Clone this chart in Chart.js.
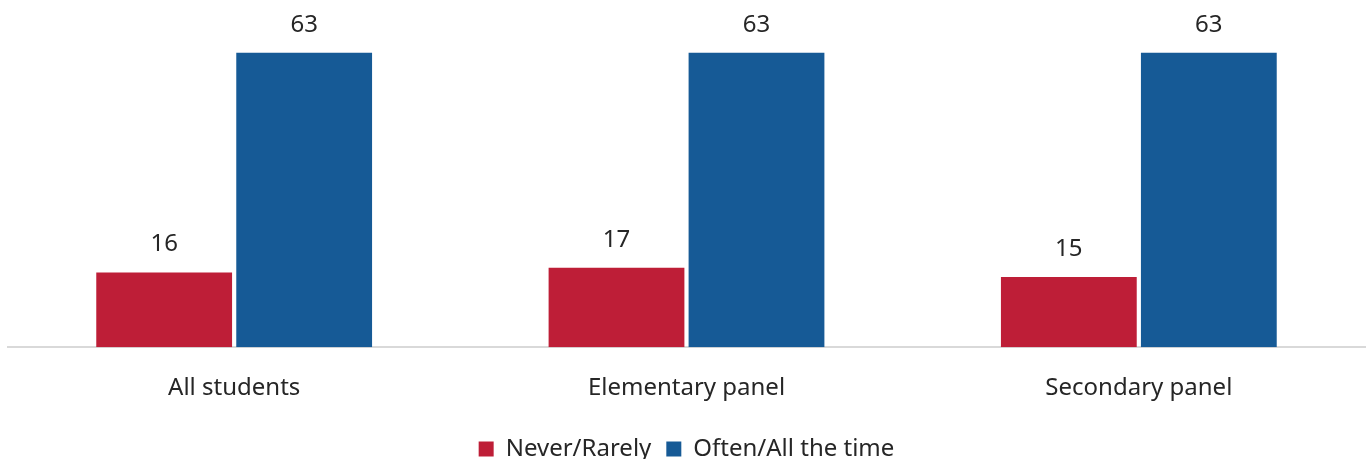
<!DOCTYPE html>
<html>
<head>
<meta charset="utf-8">
<script src="https://cdn.jsdelivr.net/npm/chart.js@4/dist/chart.umd.min.js"></script>
<style>
  html, body { margin: 0; padding: 0; background: #ffffff; overflow: hidden; }
  #wrap { width: 1367px; height: 471px; position: relative; }
</style>
</head>
<body>
<div id="wrap"><canvas id="chart"></canvas></div>
<script>
const categories = ["All students", "Elementary panel", "Secondary panel"];
const neverRarely = [16, 17, 15];
const oftenAllTime = [63, 63, 63];
const seriesNames = ["Never/Rarely", "Often/All the time"];

const FONT = "'Noto Sans', 'Open Sans', sans-serif";

// Draws the value above each bar
const valueLabels = {
  id: 'valueLabels',
  afterDatasetsDraw(chart) {
    const ctx = chart.ctx;
    ctx.save();
    ctx.font = "24px " + FONT;
    ctx.fillStyle = '#262626';
    ctx.textAlign = 'center';
    ctx.textBaseline = 'middle';
    chart.data.datasets.forEach((ds, i) => {
      const meta = chart.getDatasetMeta(i);
      meta.data.forEach((bar, j) => {
        ctx.fillText(String(ds.data[j]), bar.x, bar.y - 28);
      });
    });
    ctx.restore();
  }
};

new Chart(document.getElementById('chart'), {
  type: 'bar',
  data: {
    labels: categories,
    datasets: [
      { label: seriesNames[0], data: neverRarely, backgroundColor: '#BE1E37' },
      { label: seriesNames[1], data: oftenAllTime, backgroundColor: '#165A96' }
    ]
  },
  options: {
    responsive: true,
    maintainAspectRatio: false,
    animation: false,
    layout: { padding: { top: 20, left: 8, right: 2, bottom: 0 } },
    datasets: { bar: { categoryPercentage: 0.619, barPercentage: 0.97 } },
    scales: {
      x: {
        grid: { display: false },
        border: { display: true, color: '#d9d9d9', width: 2 },
        ticks: { color: '#262626', font: { family: FONT, size: 24 }, padding: 19 }
      },
      y: {
        display: false,
        min: 0,
        max: 70
      }
    },
    plugins: {
      legend: {
        position: 'bottom',
        labels: {
          color: '#262626',
          font: { family: FONT, size: 24 },
          boxWidth: 15,
          boxHeight: 15,
          padding: 15
        }
      },
      tooltip: { enabled: false }
    }
  },
  plugins: [valueLabels]
});
</script>
</body>
</html>
